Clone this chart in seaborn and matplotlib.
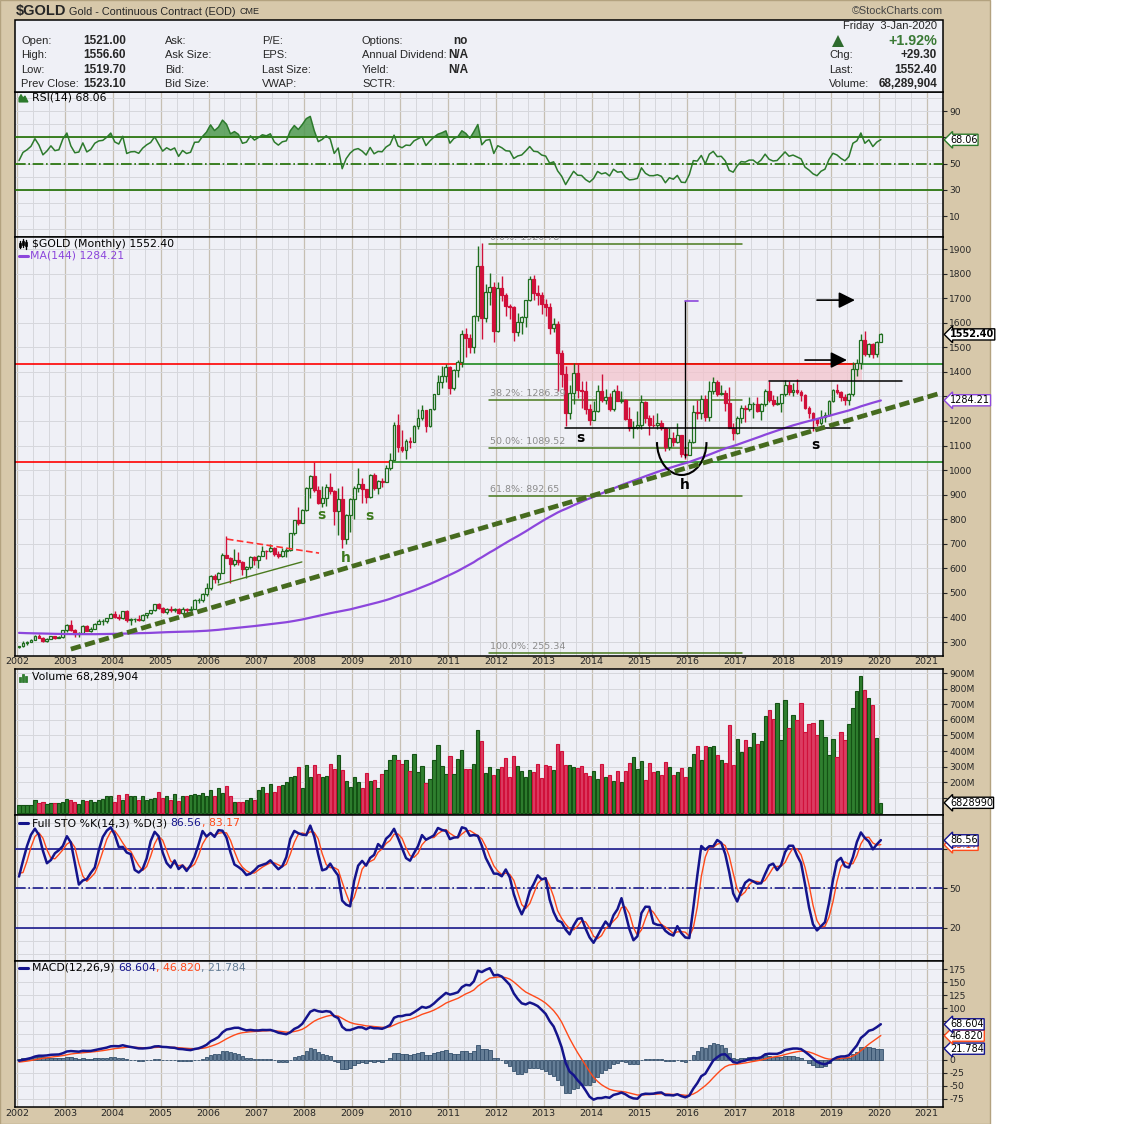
import numpy as np
import pandas as pd
import matplotlib
matplotlib.use("Agg")
import matplotlib.pyplot as plt
from matplotlib.patches import Rectangle, Arc, Polygon
import seaborn as sns

# canvas size in pixels, same as the StockCharts screenshot
W, H = 1140, 1124

# Monthly closes 1990-2001, only used to warm up MA(144), RSI and MACD
PRE_CLOSE = [
    415, 407, 368, 367, 363, 352, 372, 387, 408, 379, 384, 393,
    367, 363, 356, 357, 366, 368, 362, 348, 354, 358, 366, 353,
    354, 354, 341, 337, 337, 343, 357, 340, 349, 339, 334, 333,
    330, 327, 338, 355, 377, 378, 402, 372, 356, 370, 370, 391,
    377, 381, 391, 377, 387, 385, 384, 385, 394, 384, 384, 383,
    375, 376, 392, 389, 386, 387, 384, 383, 384, 383, 387, 387,
    405, 400, 396, 392, 391, 382, 385, 387, 379, 379, 371, 369,
    345, 364, 349, 340, 345, 334, 326, 325, 332, 311, 296, 290,
    303, 297, 301, 310, 293, 296, 288, 273, 294, 292, 294, 288,
    287, 287, 279, 286, 268, 261, 255, 254, 299, 300, 292, 290,
    284, 294, 278, 276, 274, 289, 282, 278, 273, 264, 270, 272,
    266, 267, 258, 264, 267, 271, 265, 273, 293, 279, 275, 279,
]

# Monthly bars Jan 2002 .. Jan 2020 (last bar = 3-Jan-2020)
CLOSE = [
    282, 296, 301, 308, 326, 318, 304, 312, 324, 317, 319, 347,
    368, 347, 334, 336, 364, 346, 354, 375, 384, 386, 398, 416,
    400, 396, 427, 388, 394, 395, 391, 408, 420, 429, 453, 438,
    422, 434, 429, 436, 417, 436, 429, 433, 469, 470, 495, 518,
    569, 556, 582, 654, 643, 616, 634, 626, 599, 606, 648, 635,
    652, 672, 669, 683, 660, 651, 669, 674, 743, 795, 783, 837,
    928, 975, 917, 864, 888, 930, 914, 833, 884, 718, 818, 884,
    928, 942, 922, 890, 980, 927, 955, 952, 1008, 1040, 1182, 1096,
    1081, 1118, 1115, 1180, 1212, 1244, 1181, 1248, 1308, 1359, 1385, 1421,
    1334, 1409, 1439, 1556, 1536, 1500, 1628, 1829, 1620, 1725, 1746, 1566,
    1740, 1711, 1669, 1664, 1561, 1604, 1622, 1692, 1776, 1719, 1713, 1675,
    1663, 1578, 1595, 1476, 1393, 1234, 1313, 1396, 1327, 1323, 1250, 1202,
    1240, 1321, 1284, 1296, 1250, 1322, 1282, 1287, 1210, 1171, 1175, 1184,
    1279, 1213, 1183, 1182, 1190, 1172, 1095, 1132, 1115, 1142, 1064, 1060,
    1116, 1238, 1234, 1291, 1215, 1321, 1357, 1309, 1313, 1272, 1173, 1152,
    1211, 1254, 1249, 1268, 1268, 1242, 1270, 1322, 1284, 1271, 1275, 1309,
    1345, 1318, 1327, 1316, 1305, 1253, 1233, 1206, 1192, 1215, 1226, 1282,
    1325, 1316, 1298, 1285, 1310, 1413, 1437, 1529, 1473, 1513, 1473, 1523.1,
    1552.4,
]
HIGH = [
    285, 303, 304, 311, 327, 332, 322, 316, 326, 325, 324, 350,
    372, 389, 352, 340, 371, 371, 363, 377, 392, 393, 399, 417,
    428, 415, 428, 430, 397, 399, 410, 413, 420, 432, 456, 458,
    443, 439, 446, 439, 437, 442, 437, 445, 474, 478, 498, 541,
    572, 576, 587, 662, 732, 645, 677, 666, 630, 610, 650, 650,
    656, 691, 675, 698, 685, 669, 683, 681, 745, 796, 848, 842,
    933, 978, 1033, 936, 937, 942, 989, 917, 925, 935, 823, 886,
    935, 1007, 968, 921, 982, 990, 961, 966, 1021, 1070, 1195, 1227,
    1162, 1127, 1134, 1183, 1249, 1266, 1245, 1249, 1310, 1388, 1425, 1432,
    1424, 1412, 1447, 1569, 1577, 1553, 1633, 1911, 1923, 1758, 1804, 1764,
    1765, 1791, 1720, 1678, 1668, 1640, 1629, 1694, 1790, 1795, 1755, 1726,
    1696, 1679, 1618, 1606, 1488, 1423, 1348, 1434, 1434, 1361, 1361, 1268,
    1280, 1345, 1392, 1331, 1315, 1332, 1345, 1324, 1288, 1255, 1200, 1240,
    1307, 1283, 1224, 1224, 1232, 1205, 1174, 1170, 1157, 1192, 1142, 1088,
    1128, 1263, 1284, 1306, 1305, 1362, 1377, 1366, 1345, 1326, 1337, 1191,
    1220, 1264, 1264, 1297, 1276, 1298, 1275, 1330, 1362, 1306, 1300, 1311,
    1366, 1362, 1356, 1369, 1326, 1310, 1262, 1237, 1214, 1243, 1237, 1284,
    1331, 1349, 1324, 1309, 1313, 1442, 1453, 1555, 1566, 1518, 1517, 1525,
    1556.6,
]
LOW = [
    276, 281, 289, 300, 307, 315, 301, 299, 311, 313, 315, 317,
    342, 346, 319, 321, 335, 343, 341, 352, 373, 368, 377, 396,
    398, 391, 393, 382, 371, 381, 386, 385, 398, 413, 425, 434,
    417, 415, 423, 421, 414, 415, 418, 426, 433, 458, 462, 488,
    513, 540, 541, 582, 640, 542, 611, 614, 573, 560, 598, 612,
    603, 650, 636, 666, 652, 640, 648, 647, 672, 734, 777, 783,
    834, 888, 909, 860, 850, 855, 901, 775, 735, 681, 701, 746,
    800, 912, 866, 865, 885, 918, 904, 930, 952, 1002, 1040, 1075,
    1075, 1044, 1088, 1113, 1167, 1202, 1157, 1176, 1245, 1308, 1333, 1360,
    1308, 1326, 1381, 1421, 1462, 1478, 1478, 1605, 1535, 1603, 1671, 1523,
    1563, 1688, 1627, 1615, 1527, 1545, 1555, 1584, 1688, 1694, 1672, 1636,
    1626, 1555, 1562, 1322, 1338, 1180, 1207, 1271, 1292, 1251, 1227, 1182,
    1202, 1238, 1277, 1268, 1240, 1241, 1280, 1273, 1205, 1160, 1131, 1167,
    1167, 1190, 1142, 1175, 1168, 1162, 1077, 1080, 1098, 1109, 1052, 1046,
    1061, 1110, 1208, 1209, 1199, 1200, 1310, 1302, 1305, 1241, 1170, 1123,
    1146, 1191, 1195, 1241, 1214, 1236, 1205, 1262, 1278, 1260, 1263, 1237,
    1302, 1307, 1303, 1311, 1282, 1250, 1211, 1160, 1180, 1182, 1196, 1221,
    1277, 1311, 1281, 1266, 1267, 1302, 1382, 1411, 1465, 1460, 1455, 1459,
    1519.7,
]
VOLUME_M = [
    57, 57, 57, 57, 83, 68, 74, 60, 64, 70, 64, 74,
    94, 87, 74, 60, 87, 79, 87, 74, 87, 94, 109, 109,
    74, 119, 87, 126, 115, 109, 87, 109, 87, 94, 100, 138,
    100, 115, 87, 126, 81, 115, 109, 119, 126, 119, 132, 115,
    151, 109, 160, 132, 177, 109, 74, 74, 74, 83, 96, 83,
    151, 170, 132, 189, 140, 177, 185, 200, 234, 240, 300, 160,
    308, 236, 308, 255, 236, 242, 319, 285, 377, 276, 210, 171,
    236, 203, 160, 261, 209, 215, 166, 255, 279, 345, 377, 345,
    319, 345, 274, 381, 266, 304, 196, 223, 345, 438, 304, 255,
    368, 255, 351, 409, 285, 283, 319, 533, 462, 261, 300, 248,
    287, 300, 358, 236, 370, 306, 274, 236, 280, 268, 319, 225,
    313, 306, 280, 448, 403, 313, 313, 300, 293, 306, 261, 242,
    274, 223, 319, 236, 248, 210, 274, 203, 274, 325, 364, 287,
    338, 216, 325, 268, 274, 248, 332, 300, 248, 268, 293, 236,
    300, 383, 435, 345, 435, 428, 435, 377, 345, 325, 570, 313,
    480, 396, 473, 428, 518, 448, 467, 627, 666, 608, 711, 473,
    730, 550, 634, 602, 711, 525, 576, 582, 505, 602, 492, 377,
    480, 364, 525, 473, 576, 679, 788, 884, 794, 743, 698, 486,
    68.29,
]
LAST_OPEN = 1521.00

YEARS = list(range(2002, 2022))
FIB_NAMES = ["0.0%", "38.2%", "50.0%", "61.8%", "100.0%"]
FIB_LEVELS = [1920.78, 1286.39, 1089.52, 892.65, 255.34]

# header table
INFO_COL1 = ["Open:", "High:", "Low:", "Prev Close:"]
INFO_VAL1 = ["1521.00", "1556.60", "1519.70", "1523.10"]
INFO_COL2 = ["Ask:", "Ask Size:", "Bid:", "Bid Size:"]
INFO_COL3 = ["P/E:", "EPS:", "Last Size:", "VWAP:"]
INFO_COL4 = ["Options:", "Annual Dividend:", "Yield:", "SCTR:"]
INFO_VAL4 = ["no", "N/A", "N/A", ""]

# colours
TAN = "#d7c8aa"
BG = "#eff0f6"
GRID = "#d6d7dc"
GRID_YEAR = "#c6bfb2"
UP = "#1f6e1f"
UP_FILL = "#2f7f2f"
DOWN = "#d0103a"
DOWN_FILL = "#dc3c62"
RSI_GREEN = "#2c7a2c"
LEVEL_GREEN = "#1e6e00"
PURPLE = "#8c46dc"
NAVY = "#14148c"
ORANGE = "#ff4a1a"
SLATE = "#647d96"
OLIVE = "#466b1f"
FIB_GREEN = "#4a7a1e"

# x: month index, 0 = Jan 2002, 3.99 px per month, Jan 2002 tick at x=17px
PX_PER_MONTH = 3.99
XMIN = -0.5 - (17 - 15) / PX_PER_MONTH
XMAX = -0.5 + (943 - 17) / PX_PER_MONTH

sns.set_style("white")
plt.rcParams["font.family"] = ["DejaVu Sans"]
plt.rcParams["axes.unicode_minus"] = False

# ---- indicators ----
n_pre = len(PRE_CLOSE)
xs = np.arange(len(CLOSE))
close = np.array(CLOSE, float)
high = np.array(HIGH, float)
low = np.array(LOW, float)
vol = np.array(VOLUME_M, float)
prev_close = np.r_[PRE_CLOSE[-1], close[:-1]]
opens = prev_close.copy()
opens[-1] = LAST_OPEN

c_all = pd.Series(np.r_[PRE_CLOSE, close])
h_all = pd.Series(np.r_[PRE_CLOSE, high])
l_all = pd.Series(np.r_[PRE_CLOSE, low])

delta = c_all.diff()
gain = delta.clip(lower=0).ewm(alpha=1 / 14, adjust=False).mean()
loss = (-delta.clip(upper=0)).ewm(alpha=1 / 14, adjust=False).mean()
rsi = (100 - 100 / (1 + gain / loss)).to_numpy()[n_pre:]

ma144 = c_all.rolling(144).mean().to_numpy()[n_pre:]

macd_s = c_all.ewm(span=12, adjust=False).mean() - c_all.ewm(span=26, adjust=False).mean()
signal_s = macd_s.ewm(span=9, adjust=False).mean()
macd = macd_s.to_numpy()[n_pre:]
signal = signal_s.to_numpy()[n_pre:]
hist = macd - signal

ll = l_all.rolling(14).min()
hh = h_all.rolling(14).max()
k_full = (100 * (c_all - ll) / (hh - ll)).rolling(3).mean()
d_full = k_full.rolling(3).mean()
sto_k = k_full.to_numpy()[n_pre:]
sto_d = d_full.to_numpy()[n_pre:]

# ---- figure ----
fig = plt.figure(figsize=(W / 100, H / 100), dpi=100)
fig.patch.set_facecolor("white")
fig.add_artist(Rectangle((0, 0), 990 / W, 1, transform=fig.transFigure,
                         fc=TAN, ec="#b3a27f", lw=1, zorder=-5))

year_pos = [12 * k - 0.5 for k in range(len(YEARS))]
minor_pos = [m - 0.5 for m in range(0, 232, 4) if m % 12]


def make_panel(top, bottom, ylim, yticks, yminor, ylabels=None):
    ax = fig.add_axes([15 / W, 1 - bottom / H, (943 - 15) / W, (bottom - top) / H])
    ax.set_facecolor(BG)
    for sp in ax.spines.values():
        sp.set_color("black")
        sp.set_linewidth(1.1)
    ax.set_xlim(XMIN, XMAX)
    ax.set_ylim(*ylim)
    ax.yaxis.tick_right()
    ax.set_xticks(year_pos)
    ax.set_xticks(minor_pos, minor=True)
    ax.set_xticklabels([str(y) for y in YEARS])
    ax.set_yticks(yticks)
    if ylabels is not None:
        ax.set_yticklabels(ylabels)
    ax.set_yticks(yminor, minor=True)
    ax.tick_params(axis="x", which="both", length=0, labelbottom=False, labelsize=6.8, pad=1)
    ax.tick_params(axis="y", which="major", length=3, width=0.8, labelsize=6.6, pad=1.5)
    ax.tick_params(axis="y", which="minor", length=0)
    ax.grid(True, which="major", axis="x", color=GRID_YEAR, lw=0.9)
    ax.grid(True, which="minor", axis="x", color=GRID, lw=0.7)
    ax.grid(True, which="both", axis="y", color=GRID, lw=0.7)
    ax.set_axisbelow(True)
    return ax


def tag(ax, y, text, ec, bold=False, tc="black"):
    ax.annotate(text, xy=(1, y), xycoords=ax.get_yaxis_transform(), xytext=(5, 0),
                textcoords="offset points", ha="left", va="center", fontsize=7,
                fontweight="bold" if bold else "normal", color=tc,
                bbox=dict(boxstyle="larrow,pad=0.06", fc="white", ec=ec, lw=1),
                annotation_clip=False, zorder=20)


def labels_hiding(ticks, hidden, fmt="{}"):
    # value tags sit on top of these tick labels in the original
    return ["" if t in hidden else fmt.format(t) for t in ticks]


# RSI
rsi_ticks = [10, 30, 50, 70, 90]
ax_rsi = make_panel(92, 237, (-6.0, 104.5), rsi_ticks, list(range(0, 101, 10)),
                    labels_hiding(rsi_ticks, {70}))
ax_rsi.fill_between(xs, rsi, 70, where=rsi >= 70, interpolate=True,
                    color="#4f9a4f", alpha=0.85, lw=0, zorder=3)
sns.lineplot(x=xs, y=rsi, ax=ax_rsi, color=RSI_GREEN, lw=1.1, zorder=5, legend=False)
for lvl, ls in [(70, "-"), (30, "-"), (50, "-.")]:
    ax_rsi.axhline(lvl, color=LEVEL_GREEN, lw=1.2, ls=ls, zorder=4)
tag(ax_rsi, 68.06, "68.06", RSI_GREEN)

# Price
price_ticks = list(range(300, 2000, 100))
ax_p = make_panel(237, 656, (243, 1949), price_ticks, [], labels_hiding(price_ticks, {1300}))
ax_p.tick_params(axis="x", which="major", labelbottom=True)

up = close >= opens
edge = np.where(up, UP, DOWN)
face = np.where(up, BG, DOWN)
ax_p.vlines(xs, low, high, colors=edge, lw=1, zorder=3)
ax_p.bar(xs, np.abs(close - opens), bottom=np.minimum(close, opens), width=0.72,
         color=face, edgecolor=edge, lw=0.9, zorder=4)
sns.lineplot(x=xs, y=ma144, ax=ax_p, color=PURPLE, lw=1.6, zorder=5, legend=False)

# support / resistance levels
ax_p.plot([XMIN, 111.3], [1432, 1432], color="red", lw=1.2, zorder=2)
ax_p.plot([111.3, XMAX], [1432, 1432], color="#1f8a1f", lw=1.2, zorder=2)
ax_p.add_patch(Rectangle((136.1, 1363), 211.3 - 136.1, 1432 - 1363, fc="#f4c2cb", ec="none",
                         alpha=0.7, zorder=2))
ax_p.plot([136.1, 209.5], [1432, 1432], color="red", lw=1.2, zorder=2.5)
ax_p.plot([XMIN, 93], [1033, 1033], color="red", lw=1.2, zorder=2)
ax_p.plot([93, XMAX], [1033, 1033], color="#1f8a1f", lw=1.2, zorder=2)

# fibonacci retracement
for name, lvl in zip(FIB_NAMES, FIB_LEVELS):
    ax_p.plot([117.7, 181.2], [lvl, lvl], color=FIB_GREEN, lw=1.1, zorder=2)
    ax_p.annotate(f"{name}: {lvl:.2f}", xy=(117.7, lvl), xytext=(1, 1.5), textcoords="offset points",
                  ha="left", va="bottom", fontsize=6.8, color="#8c8c8c", clip_on=True, zorder=6)

# inverse head & shoulders drawing
ax_p.plot([136.8, 208.3], [1171, 1171], color="black", lw=1.1, zorder=6)
ax_p.plot([188, 221.3], [1363, 1363], color="black", lw=1.1, zorder=6)
ax_p.plot([166.9, 166.9], [1053, 1688], color="black", lw=1.0, zorder=6)
ax_p.plot([166.9, 170.2], [1688, 1688], color=PURPLE, lw=1.2, zorder=6)
ax_p.add_patch(Arc((166.1, 1114), 12.4, 268, theta1=180, theta2=360, color="black", lw=1.5, zorder=6))
for x0, x1, y in [(200, 209.5, 1692), (197, 207.5, 1448)]:
    ax_p.annotate("", xy=(x1, y), xytext=(x0, y),
                  arrowprops=dict(arrowstyle="-|>,head_length=0.7,head_width=0.35", color="black",
                                  lw=1.2, shrinkA=0, shrinkB=0, mutation_scale=14), zorder=7)
for x, y, s in [(140.6, 1131, "s"), (166.9, 939, "h"), (199.7, 1102, "s")]:
    ax_p.text(x, y, s, ha="center", va="center", fontsize=10, fontweight="bold", color="black", zorder=7)
for x, y, s in [(75.7, 817, "s"), (82.0, 642, "h"), (87.7, 813, "s")]:
    ax_p.text(x, y, s, ha="center", va="center", fontsize=10, fontweight="bold", color="#3d7a1e", zorder=7)

# trend lines
ax_p.plot([13.0, 231.1], [271, 1314], color=OLIVE, lw=3.4, ls=(0, (2.2, 0.9)), zorder=6,
          solid_capstyle="butt", dash_capstyle="butt")
ax_p.plot([52.1, 75.2], [719, 662], color="#ff3030", lw=1.2, ls=(0, (4, 2)), zorder=6)
ax_p.plot([49.9, 70.9], [532, 626], color=FIB_GREEN, lw=1.0, zorder=6)

tag(ax_p, 1284.21, "1284.21", PURPLE)
tag(ax_p, 1552.40, "1552.40", "black", bold=True)

# Volume
vol_up = close >= prev_close
vol_ticks = list(range(100, 1000, 100))
ax_v = make_panel(669, 815, (-10, 926), vol_ticks, [], labels_hiding(vol_ticks, {100}, "{}M"))
ax_v.bar(xs, vol, width=0.8, color=np.where(vol_up, UP_FILL, DOWN_FILL),
         edgecolor=np.where(vol_up, "#145214", DOWN), lw=0.8, zorder=3)
tag(ax_v, 68.29, "6828990", "black")

# Full stochastics
sto_ticks = [20, 50, 80]
ax_s = make_panel(815, 961, (-5.1, 105.8), sto_ticks, list(range(0, 101, 10)),
                  labels_hiding(sto_ticks, {80}))
for lvl, ls in [(80, "-"), (20, "-"), (50, "-.")]:
    ax_s.axhline(lvl, color="#1a1a8c", lw=1.2, ls=ls, zorder=3)
sns.lineplot(x=xs, y=sto_d, ax=ax_s, color=ORANGE, lw=1.0, zorder=5, legend=False)
sns.lineplot(x=xs, y=sto_k, ax=ax_s, color=NAVY, lw=1.8, zorder=6, legend=False)
tag(ax_s, 83.17, "83.17", ORANGE, tc=ORANGE)
tag(ax_s, 86.56, "86.56", NAVY)

# MACD
macd_ticks = list(range(-75, 176, 25))
ax_m = make_panel(961, 1107, (-90.4, 190.4), macd_ticks, [], labels_hiding(macd_ticks, {25, 50, 75}))
ax_m.tick_params(axis="x", which="major", labelbottom=True, pad=1.5)
ax_m.bar(xs, hist, width=0.85, color=SLATE, edgecolor="#34506c", lw=0.6, zorder=3)
sns.lineplot(x=xs, y=signal, ax=ax_m, color=ORANGE, lw=1.0, zorder=5, legend=False)
sns.lineplot(x=xs, y=macd, ax=ax_m, color=NAVY, lw=1.8, zorder=6, legend=False)
tag(ax_m, 21.784, "21.784", NAVY)
tag(ax_m, 46.820, "46.820", ORANGE)
tag(ax_m, 68.604, "68.604", NAVY)

# ---- overlay in pixel coordinates: header, legends, icons ----
ov = fig.add_axes([0, 0, 1, 1])
ov.set_xlim(0, W)
ov.set_ylim(H, 0)
ov.axis("off")
ov.set_zorder(30)
ov.patch.set_visible(False)

ov.add_patch(Rectangle((15, 20), 928, 72, fc=BG, ec="black", lw=1.1, zorder=1))

HDR = dict(fontfamily="Liberation Sans", va="center", zorder=3)
t = ov.text(16, 11, "$GOLD", fontsize=10.5, fontweight="bold", ha="left", **HDR)
t = ov.annotate(" Gold - Continuous Contract (EOD) ", xy=(1, 0.45), xycoords=t, ha="left",
                fontsize=7.8, **HDR)
ov.annotate("CME", xy=(1, 0.5), xycoords=t, ha="left", fontsize=6.5, **HDR)
ov.text(943, 11, "\u00a9StockCharts.com", ha="right", fontsize=7.8, color="#444444", **HDR)

rows = [41, 55.5, 70, 84]
for i, yy in enumerate(rows):
    ov.text(21, yy, INFO_COL1[i], ha="left", fontsize=8, **HDR)
    ov.text(83, yy, INFO_VAL1[i], ha="left", fontsize=8.5, fontweight="bold", **HDR)
    ov.text(165, yy, INFO_COL2[i], ha="left", fontsize=8, **HDR)
    ov.text(262, yy, INFO_COL3[i], ha="left", fontsize=8, **HDR)
    ov.text(362, yy, INFO_COL4[i], ha="left", fontsize=8, **HDR)
    ov.text(468, yy, INFO_VAL4[i], ha="right", fontsize=8.5, fontweight="bold", **HDR)

ov.text(937, 26, "Friday  3-Jan-2020", ha="right", fontsize=8, **HDR)
ov.add_patch(Polygon([(832, 47), (844, 47), (838, 35)], closed=True, fc="#2e6b2e", ec="none", zorder=3))
ov.text(937, 41, "+1.92%", ha="right", fontsize=10.3, fontweight="bold", color="#3a7a35", **HDR)
for yy, lab, val in [(55.5, "Chg:", "+29.30"), (70, "Last:", "1552.40"), (84, "Volume:", "68,289,904")]:
    ov.text(829, yy, lab, ha="left", fontsize=8, **HDR)
    ov.text(937, yy, val, ha="right", fontsize=8.5, fontweight="bold", **HDR)


def legend(x, y, parts, size=7.8):
    s0, c0 = parts[0]
    tt = ov.text(x, y, s0, color=c0, fontsize=size, ha="left", va="center", zorder=3)
    for s, c in parts[1:]:
        tt = ov.annotate(s, xy=(1, 0.5), xycoords=tt, ha="left", va="center",
                         color=c, fontsize=size, zorder=3)


legend(32, 98, [("RSI(14) 68.06", "black")])
legend(32, 244, [("$GOLD (Monthly) 1552.40", "black")])
legend(30, 256, [("MA(144) 1284.21", PURPLE)])
legend(32, 677, [("Volume 68,289,904", "black")])
legend(32, 823, [("Full STO %K(14,3) %D(3) ", "black"), ("86.56", NAVY), (", 83.17", ORANGE)])
legend(32, 968, [("MACD(12,26,9) ", "black"), ("68.604", NAVY), (", 46.820", ORANGE),
                 (", 21.784", SLATE)])

# little legend icons
ov.add_patch(Polygon([(19, 102), (19, 98), (21, 94.5), (23, 98), (25, 96), (28, 102)],
                     closed=True, fc=RSI_GREEN, ec=RSI_GREEN, lw=0.8, zorder=3))
for xi, (y0, y1) in zip([20, 23, 26], [(241, 248), (239, 247), (240, 249)]):
    ov.plot([xi, xi], [y0, y1], color="black", lw=1, zorder=3)
    ov.add_patch(Rectangle((xi - 1, y0 + 2), 2, 4, fc="black", ec="black", lw=0.5, zorder=3))
ov.plot([19, 28], [256, 256], color=PURPLE, lw=2.2, zorder=3)
for xi, hgt in zip([19, 22, 25], [5, 8, 6]):
    ov.add_patch(Rectangle((xi, 682 - hgt), 2.2, hgt, fc=UP_FILL, ec=UP, lw=0.5, zorder=3))
ov.plot([19, 28], [823, 823], color=NAVY, lw=2.2, zorder=3)
ov.plot([19, 28], [968, 968], color=NAVY, lw=2.2, zorder=3)

fig.savefig("out.png", dpi=100)
